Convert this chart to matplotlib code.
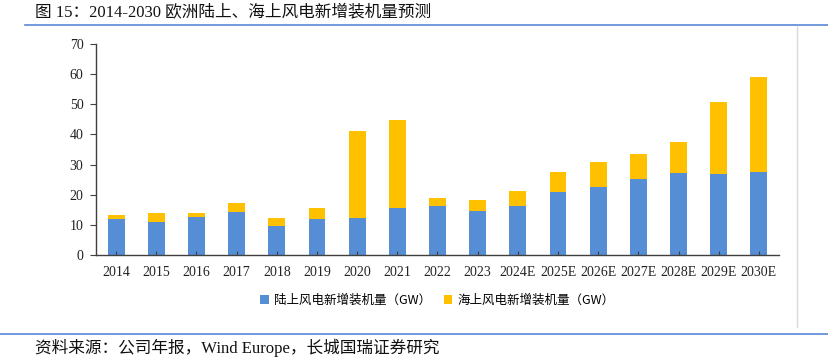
# 2014-2030 Europe onshore / offshore new wind installations (stacked bars)
import matplotlib
matplotlib.use('Agg')
import numpy as np
import matplotlib.pyplot as plt
from matplotlib.lines import Line2D

years = ['2014', '2015', '2016', '2017', '2018', '2019', '2020', '2021', '2022',
         '2023', '2024E', '2025E', '2026E', '2027E', '2028E', '2029E', '2030E']
onshore = [11.8, 10.8, 12.5, 14.2, 9.5, 11.9, 12.2, 15.6, 16.4,
           14.6, 16.3, 21.0, 22.7, 25.2, 27.1, 26.8, 27.6]
total = [13.3, 13.8, 14.0, 17.4, 12.3, 15.7, 41.2, 44.7, 18.9,
         18.4, 21.2, 27.6, 30.9, 33.6, 37.5, 50.6, 59.2]
offshore = [round(t - o, 1) for t, o in zip(total, onshore)]

label_on = '陆上风电新增装机量（GW）'
label_off = '海上风电新增装机量（GW）'
title = '图 15：2014-2030 欧洲陆上、海上风电新增装机量预测'
source = '资料来源：公司年报，Wind Europe，长城国瑞证券研究'

serif_cjk = ['Liberation Serif', 'Noto Sans CJK SC']
cjk = ['Noto Sans CJK SC', 'DejaVu Sans']

W, H = 829, 359
fig = plt.figure(figsize=(W / 100, H / 100), dpi=100)
ax = fig.add_axes([96 / W, (H - 255) / H, (779 - 96) / W, (255 - 44) / H])

x = np.arange(len(years))
ax.bar(x, onshore, width=0.42, color='#558ED5', label=label_on)
ax.bar(x, offshore, width=0.42, bottom=onshore, color='#FFC000', label=label_off)

ax.set_xlim(-0.5, 16.5)
ax.set_ylim(0, 70)
ax.set_yticks(range(0, 71, 10))
ax.set_xticks(x)
ax.set_xticklabels(years)
for lab in ax.get_xticklabels() + ax.get_yticklabels():
    lab.set_family('Liberation Serif')
    lab.set_fontsize(10)
    lab.set_color('#222222')

ax.spines['top'].set_visible(False)
ax.spines['right'].set_visible(False)
for s in ['left', 'bottom']:
    ax.spines[s].set_color('#404040')
    ax.spines[s].set_linewidth(1.0)
ax.tick_params(axis='y', direction='out', length=4, color='#404040', pad=5)
ax.tick_params(axis='x', direction='in', length=3, color='#404040', pad=8)

leg = ax.legend(loc='upper center', bbox_to_anchor=(0.5, -0.13), ncol=2, frameon=False,
                prop={'family': cjk, 'size': 9}, handlelength=0.7, handleheight=0.7,
                handletextpad=0.4, columnspacing=1.0)

# header / footer decorations
fig.add_artist(Line2D([25 / W, 1], [(H - 25) / H] * 2, color='#5B87D6', lw=1.2))
fig.add_artist(Line2D([0, 1], [(H - 334) / H] * 2, color='#5B87D6', lw=1.2))
fig.add_artist(Line2D([797 / W] * 2, [(H - 26) / H, (H - 327) / H], color='#D9D9D9', lw=1.0))

fig.text(35 / W, (H - 13) / H, title, family=serif_cjk, fontsize=12,
         va='center', ha='left', color='#111111')
fig.text(35 / W, (H - 348) / H, source, family=serif_cjk, fontsize=12,
         va='center', ha='left', color='#111111')

fig.savefig('out.png', dpi=100)
